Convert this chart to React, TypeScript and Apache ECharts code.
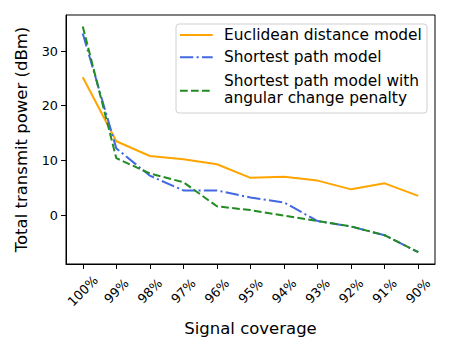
import React, { useEffect, useRef } from "react";
import * as echarts from "echarts";

const categories = ["100%", "99%", "98%", "97%", "96%", "95%", "94%", "93%", "92%", "91%", "90%"];
const euclidean = [25.2, 13.5, 10.8, 10.2, 9.3, 6.8, 7.0, 6.3, 4.7, 5.8, 3.5];
const shortestPath = [33.2, 12.2, 7.2, 4.5, 4.5, 3.2, 2.3, -1.1, -2.1, -3.7, -6.8];
const shortestPathAngular = [34.5, 10.4, 7.6, 6.0, 1.6, 0.9, -0.1, -1.1, -2.1, -3.7, -6.8];
const yTicks = [0, 10, 20, 30];

const FONT = "DejaVu Sans";
const C_ORANGE = "#FFA500";
const C_BLUE = "#4169E1";
const C_GREEN = "#228B22";
const LW = 2;
const DASH = [7.7, 3.3];
const DASHDOT = [13.3, 3.3, 2.1, 3.3];
const LEGEND_FONT = `15.4px '${FONT}'`;

export default function App() {
  const ref = useRef<HTMLDivElement>(null);
  useEffect(() => {
    if (!ref.current) return;
    const chart = echarts.init(ref.current, null, { renderer: "svg" });
    const legendX = 180;
    const legendX2 = 212.7;
    const textX = 224;
    chart.setOption({
      animation: false,
      backgroundColor: "#fff",
      grid: {
        left: 66,
        right: 15,
        top: 15,
        bottom: 86,
        show: true,
        borderColor: "#000",
        borderWidth: 1,
        backgroundColor: "transparent",
      },
      xAxis: {
        type: "category",
        data: categories,
        boundaryGap: true,
        name: "Signal coverage",
        nameLocation: "middle",
        nameGap: 56,
        nameTextStyle: { fontFamily: FONT, fontSize: 16.5, color: "#000" },
        axisLine: { show: true, onZero: false, lineStyle: { color: "#000", width: 1 } },
        axisTick: { show: true, alignWithLabel: true, length: 5, lineStyle: { color: "#000" } },
        axisLabel: {
          rotate: 45,
          align: "center",
          verticalAlign: "middle",
          margin: 27,
          fontFamily: FONT,
          fontSize: 12.8,
          color: "#000",
          interval: 0,
        },
        splitLine: { show: false },
      },
      yAxis: {
        type: "value",
        min: -8.96,
        max: 36.6,
        name: "Total transmit power (dBm)",
        nameLocation: "middle",
        nameGap: 36,
        nameTextStyle: { fontFamily: FONT, fontSize: 16.5, color: "#000" },
        axisLine: { show: true, lineStyle: { color: "#000", width: 1 } },
        axisTick: { show: true, length: 5, lineStyle: { color: "#000" }, customValues: yTicks },
        axisLabel: {
          fontFamily: FONT,
          fontSize: 12.8,
          color: "#000",
          margin: 8,
          customValues: yTicks,
        },
        splitLine: { show: false },
      },
      series: [
        {
          name: "Euclidean distance model",
          type: "line",
          data: euclidean,
          symbol: "none",
          lineStyle: { color: C_ORANGE, width: LW },
          z: 3,
        },
        {
          name: "Shortest path model",
          type: "line",
          data: shortestPath,
          symbol: "none",
          lineStyle: { color: C_BLUE, width: LW, type: DASHDOT },
          z: 4,
        },
        {
          name: "Shortest path model with angular change penalty",
          type: "line",
          data: shortestPathAngular,
          symbol: "none",
          lineStyle: { color: C_GREEN, width: LW, type: DASH },
          z: 5,
        },
      ],
      graphic: [
        {
          type: "rect",
          z: 100,
          shape: { x: 176, y: 24, width: 251, height: 89, r: 3 },
          style: { fill: "rgba(255,255,255,0.8)", stroke: "#d0d0d0", lineWidth: 1 },
        },
        {
          type: "line",
          z: 101,
          shape: { x1: legendX, y1: 35, x2: legendX2, y2: 35 },
          style: { stroke: C_ORANGE, lineWidth: LW },
        },
        {
          type: "line",
          z: 101,
          shape: { x1: legendX, y1: 57.3, x2: legendX2, y2: 57.3 },
          style: { stroke: C_BLUE, lineWidth: LW, lineDash: DASHDOT },
        },
        {
          type: "line",
          z: 101,
          shape: { x1: legendX, y1: 90.7, x2: legendX2, y2: 90.7 },
          style: { stroke: C_GREEN, lineWidth: LW, lineDash: DASH },
        },
        {
          type: "text",
          z: 101,
          x: textX,
          y: 35,
          style: { text: "Euclidean distance model", font: LEGEND_FONT, fill: "#000", verticalAlign: "middle", align: "left" },
        },
        {
          type: "text",
          z: 101,
          x: textX,
          y: 57.3,
          style: { text: "Shortest path model", font: LEGEND_FONT, fill: "#000", verticalAlign: "middle", align: "left" },
        },
        {
          type: "text",
          z: 101,
          x: textX,
          y: 80.5,
          style: { text: "Shortest path model with", font: LEGEND_FONT, fill: "#000", verticalAlign: "middle", align: "left" },
        },
        {
          type: "text",
          z: 101,
          x: textX,
          y: 98,
          style: { text: "angular change penalty", font: LEGEND_FONT, fill: "#000", verticalAlign: "middle", align: "left" },
        },
      ],
    });
    return () => chart.dispose();
  }, []);
  return (
    <div
      ref={ref}
      style={{ position: "absolute", left: 0, top: 0, width: 450, height: 350 }}
    />
  );
}
